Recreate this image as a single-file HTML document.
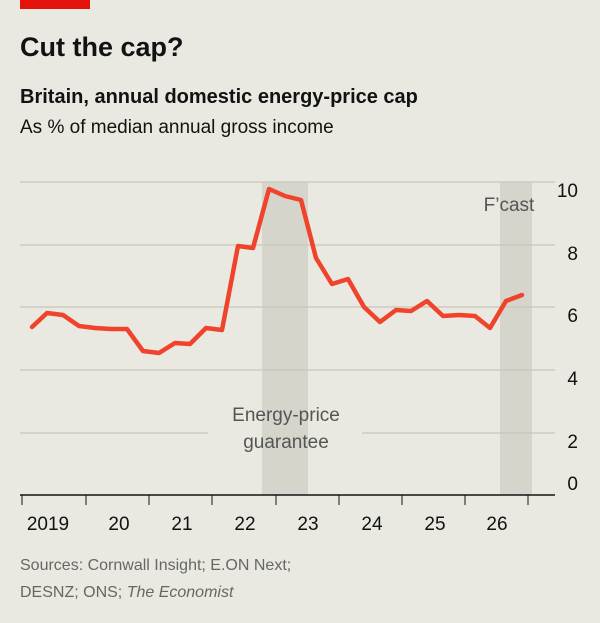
<!DOCTYPE html>
<html><head><meta charset="utf-8"><style>
body{margin:0;background:#e9e9e1;font-family:"Liberation Sans",sans-serif;}
</style></head><body>
<svg width="600" height="618" viewBox="0 0 600 618" xmlns="http://www.w3.org/2000/svg" font-family="Liberation Sans, sans-serif">
<rect x="0" y="0" width="600" height="618" fill="#e9e9e1"/>
<rect x="20" y="0" width="70" height="9" fill="#e3120b"/>
<text x="20" y="56" font-size="27" font-weight="bold" fill="#121212">Cut the cap?</text>
<text x="20" y="103" font-size="20" font-weight="bold" fill="#121212">Britain, annual domestic energy-price cap</text>
<text x="20" y="133" font-size="19" fill="#121212">As % of median annual gross income</text>
<rect x="262" y="182" width="46" height="313" fill="#d5d5cc"/>
<rect x="500" y="182" width="32" height="313" fill="#d5d5cc"/>
<g stroke="#c6c6bd" stroke-width="1.2">
<line x1="20" y1="182" x2="555" y2="182"/>
<line x1="20" y1="245" x2="555" y2="245"/>
<line x1="20" y1="307" x2="555" y2="307"/>
<line x1="20" y1="370" x2="555" y2="370"/>
<line x1="20" y1="433" x2="208" y2="433"/>
<line x1="362" y1="433" x2="555" y2="433"/>
</g>
<line x1="20" y1="495" x2="555" y2="495" stroke="#121212" stroke-width="1.5"/>
<g stroke="#121212" stroke-width="1">
<line x1="22" y1="495" x2="22" y2="505"/><line x1="86" y1="495" x2="86" y2="505"/>
<line x1="149" y1="495" x2="149" y2="505"/><line x1="212" y1="495" x2="212" y2="505"/>
<line x1="276" y1="495" x2="276" y2="505"/><line x1="339" y1="495" x2="339" y2="505"/>
<line x1="402" y1="495" x2="402" y2="505"/><line x1="465" y1="495" x2="465" y2="505"/>
<line x1="528" y1="495" x2="528" y2="505"/>
</g>
<g font-size="19" fill="#121212" text-anchor="end">
<text x="578" y="197">10</text><text x="578" y="260">8</text><text x="578" y="322">6</text>
<text x="578" y="385">4</text><text x="578" y="448">2</text><text x="578" y="490">0</text>
</g>
<g font-size="19" fill="#121212" text-anchor="middle">
<text x="48" y="530">2019</text><text x="119" y="530">20</text><text x="182" y="530">21</text>
<text x="245" y="530">22</text><text x="308" y="530">23</text><text x="372" y="530">24</text>
<text x="435" y="530">25</text><text x="497" y="530">26</text>
</g>
<text x="286" y="421" font-size="19" fill="#555" text-anchor="middle">Energy-price</text>
<text x="286" y="448" font-size="19" fill="#555" text-anchor="middle">guarantee</text>
<text x="509" y="211" font-size="19" fill="#555" text-anchor="middle">F’cast</text>
<polyline fill="none" stroke="#f0432c" stroke-width="4.5" stroke-linejoin="round" stroke-linecap="round"
points="32,327 47,313 63,315 79,326 95,328 111,329 127,329 143,351 159,353 175,343 190,344 206,328 222,330 238,246 253,248 269,189 285,196 301,200 316,258 332,284 348,279 364,307 380,322 396,310 411,311 427,301 443,316 459,315 475,316 490,328 506,301 522,295"/>
<text x="20" y="570" font-size="16" fill="#666">Sources: Cornwall Insight; E.ON Next;</text>
<text x="20" y="597" font-size="16" fill="#666">DESNZ; ONS; <tspan font-style="italic">The Economist</tspan></text>
</svg>
</body></html>
